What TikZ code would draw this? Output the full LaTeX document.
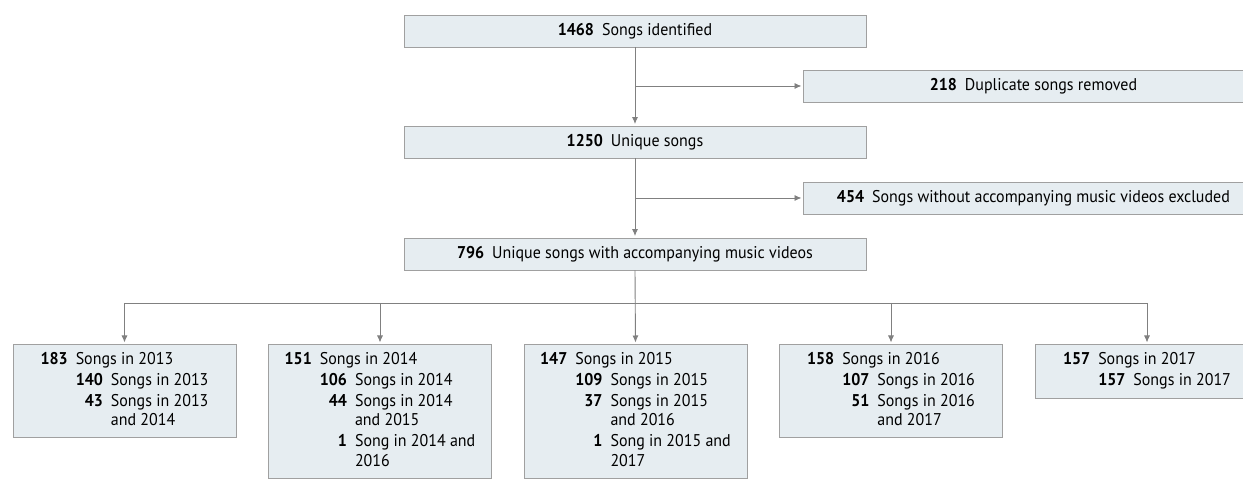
\documentclass[tikz,border=0pt]{standalone}
\usepackage{fontspec}
\setmainfont{PT Sans}[FakeStretch=0.94]
\usetikzlibrary{arrows.meta}
\definecolor{boxfill}{RGB}{230,237,241}
\definecolor{boxline}{RGB}{160,160,160}
\definecolor{arrowcol}{RGB}{128,128,128}
\newcommand{\nb}[1]{\textbf{#1}\hspace{8pt}}
\begin{document}
\begin{tikzpicture}[x=1pt,y=-1pt,
  box/.style={draw=boxline, line width=0.9pt, fill=boxfill, inner sep=0pt, align=center,
    font=\fontsize{17}{19.5}\selectfont},
  conn/.style={draw=arrowcol, line width=0.9pt},
  arr/.style={conn, -{Latex[length=7pt,width=6pt]}, shorten >=1.5pt}]
\useasboundingbox (0,0) rectangle (1243,494);
\clip (0,0) rectangle (1243,494);
% top chain
\node[box, minimum width=462pt, minimum height=32pt] (n1) at (635,31) {\nb{1468}Songs identified};
\node[box, minimum width=462pt, minimum height=32pt] (n2) at (635,142) {\nb{1250}Unique songs};
\node[box, minimum width=462pt, minimum height=32pt] (n3) at (635,254) {\nb{796}Unique songs with accompanying music videos};
\node[box, minimum width=460pt, minimum height=32pt, anchor=west] (x1) at (803,86) {\nb{218}Duplicate songs removed};
\node[box, minimum width=460pt, minimum height=32pt, anchor=west] (x2) at (803,198) {\nb{454}Songs without accompanying music videos excluded};
% bottom boxes
\tikzset{yb/.style={box, anchor=north, minimum width=223pt}}
\node[yb, minimum height=93pt] (y13) at (124.5,344) {%
\begin{tabular}{@{}r@{\hspace{8pt}}r@{\hspace{8pt}}l@{}}
\textbf{183} & \multicolumn{2}{@{}l@{}}{Songs in 2013}\\[1.5pt]
& \textbf{140} & Songs in 2013\\[1.5pt]
& \textbf{43} & Songs in 2013\\
& & and 2014
\end{tabular}};
\node[yb, minimum height=134pt] (y14) at (380,344) {%
\begin{tabular}{@{}r@{\hspace{8pt}}r@{\hspace{8pt}}l@{}}
\textbf{151} & \multicolumn{2}{@{}l@{}}{Songs in 2014}\\[1.5pt]
& \textbf{106} & Songs in 2014\\[1.5pt]
& \textbf{44} & Songs in 2014\\
& & and 2015\\[1.5pt]
& \textbf{1} & Song in 2014 and\\
& & 2016
\end{tabular}};
\node[yb, minimum height=134pt] (y15) at (635.5,344) {%
\begin{tabular}{@{}r@{\hspace{8pt}}r@{\hspace{8pt}}l@{}}
\textbf{147} & \multicolumn{2}{@{}l@{}}{Songs in 2015}\\[1.5pt]
& \textbf{109} & Songs in 2015\\[1.5pt]
& \textbf{37} & Songs in 2015\\
& & and 2016\\[1.5pt]
& \textbf{1} & Song in 2015 and\\
& & 2017
\end{tabular}};
\node[yb, minimum height=93pt] (y16) at (891,344) {%
\begin{tabular}{@{}r@{\hspace{8pt}}r@{\hspace{8pt}}l@{}}
\textbf{158} & \multicolumn{2}{@{}l@{}}{Songs in 2016}\\[1.5pt]
& \textbf{107} & Songs in 2016\\[1.5pt]
& \textbf{51} & Songs in 2016\\
& & and 2017
\end{tabular}};
\node[yb, minimum height=54pt] (y17) at (1147,344) {%
\begin{tabular}{@{}r@{\hspace{8pt}}r@{\hspace{8pt}}l@{}}
\textbf{157} & \multicolumn{2}{@{}l@{}}{Songs in 2017}\\[1.5pt]
& \textbf{157} & Songs in 2017
\end{tabular}};
% connectors
\draw[arr] (n1.south) -- (n2.north);
\draw[arr] (n1.south |- x1.west) -- (x1.west);
\draw[arr] (n2.south) -- (n3.north);
\draw[arr] (n2.south |- x2.west) -- (x2.west);
\coordinate (bar) at (636,303);
\draw[arr] (n3.south) -- (y15.north);
\draw[conn] (y13.north |- bar) -- (y17.north |- bar);
\foreach \t in {y13,y14,y16,y17} \draw[arr] (\t.north |- bar) -- (\t.north);
\end{tikzpicture}
\end{document}
